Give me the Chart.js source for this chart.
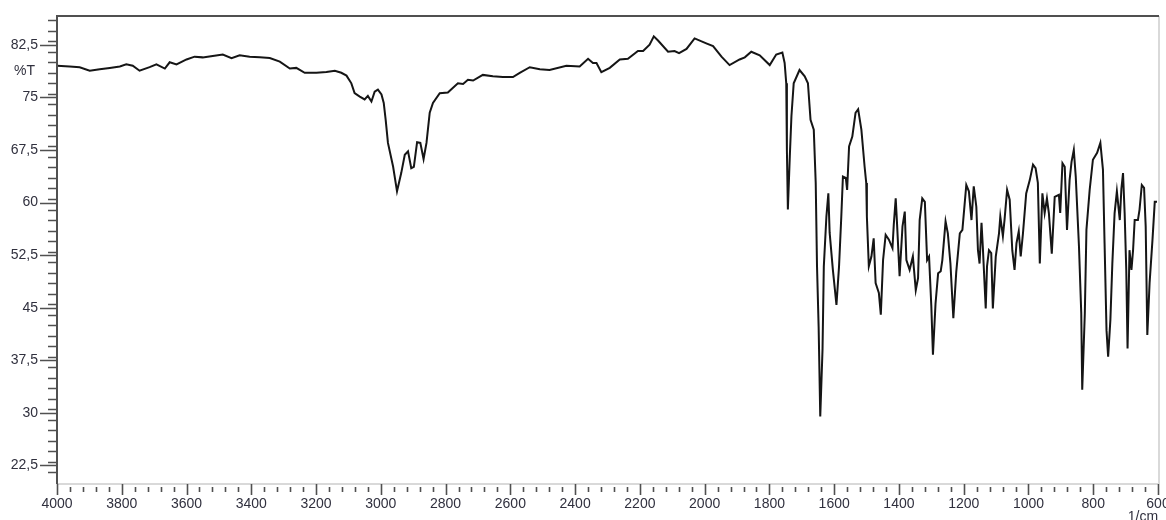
<!DOCTYPE html>
<html>
<head>
<meta charset="utf-8">
<script src="https://cdn.jsdelivr.net/npm/chart.js@4/dist/chart.umd.min.js"></script>
<style>
  body { margin: 0; background: #fff; }
</style>
</head>
<body>
<canvas id="irChart" width="1166" height="520"></canvas>
<script>
// spectrum (1/cm, %T)
const wavenumbers = [
  4000, 3961, 3930, 3899, 3868, 3837, 3806, 3786, 3766, 3745, 3714, 3693, 3667, 3652, 3631,
  3600, 3575, 3550, 3519, 3488, 3461, 3436, 3405, 3374, 3343, 3312, 3281, 3261, 3235, 3199,
  3168, 3142, 3122, 3106, 3091, 3081, 3065, 3050, 3040, 3029, 3019, 3009, 2998, 2991, 2985,
  2978, 2962, 2950, 2937, 2926, 2916, 2906, 2898, 2888, 2878, 2868, 2859, 2849, 2839, 2818,
  2793, 2762, 2746, 2731, 2715, 2685, 2654, 2623, 2592, 2571, 2540, 2509, 2479, 2427, 2386,
  2360, 2345, 2334, 2319, 2293, 2262, 2237, 2206, 2190, 2170, 2157, 2144, 2113, 2093, 2079,
  2056, 2031, 1995, 1974, 1948, 1923, 1892, 1876, 1856, 1830, 1799, 1779, 1760, 1753, 1748,
  1746, 1743, 1737, 1732, 1725, 1707, 1691, 1681, 1673, 1663, 1657, 1653, 1648, 1643, 1636,
  1632, 1624, 1618, 1614, 1604, 1593, 1585, 1578, 1573, 1564, 1560, 1554, 1544, 1534, 1526,
  1516, 1506, 1501, 1499, 1493, 1485, 1478, 1472, 1462, 1456, 1449, 1441, 1431, 1420, 1416,
  1410, 1406, 1398, 1389, 1382, 1377, 1367, 1357, 1348, 1341, 1336, 1328, 1320, 1313, 1307,
  1300, 1295, 1287, 1279, 1271, 1266, 1256, 1249, 1241, 1232, 1223, 1212, 1204, 1192, 1184,
  1176, 1169, 1161, 1156, 1151, 1145, 1141, 1132, 1128, 1122, 1115, 1110, 1101, 1091, 1087,
  1079, 1074, 1066, 1058, 1050, 1043, 1037, 1030, 1024, 1017, 1007, 996, 986, 978, 971,
  965, 957, 950, 943, 937, 928, 919, 906, 902, 895, 888, 881, 873, 867, 860,
  854, 844, 837, 834, 826, 821, 811, 801, 788, 778, 770, 765, 759, 754, 747,
  741, 734, 727, 718, 713, 708, 703, 698, 694, 688, 682, 677, 672, 662, 657,
  650, 643, 638, 633, 626, 617, 610, 603
];
const transmittance = [
  79.5, 79.4, 79.3, 78.8, 79.0, 79.2, 79.4, 79.7, 79.5, 78.8, 79.3, 79.7, 79.1, 80.0, 79.7,
  80.4, 80.8, 80.7, 80.9, 81.1, 80.6, 81.0, 80.8, 80.7, 80.6, 80.1, 79.1, 79.2, 78.5, 78.5,
  78.6, 78.8, 78.5, 78.1, 77.0, 75.6, 75.1, 74.7, 75.2, 74.4, 75.8, 76.1, 75.4, 74.2, 71.8,
  68.5, 65.1, 61.6, 64.2, 66.8, 67.3, 64.9, 65.1, 68.6, 68.5, 66.2, 68.5, 72.8, 74.2, 75.6,
  75.7, 77.0, 76.9, 77.5, 77.4, 78.2, 78.0, 77.9, 77.9, 78.5, 79.3, 79.0, 78.9, 79.5, 79.4,
  80.5, 79.9, 79.9, 78.6, 79.2, 80.4, 80.5, 81.6, 81.6, 82.5, 83.7, 83.1, 81.5, 81.6, 81.3,
  81.9, 83.4, 82.7, 82.3, 80.8, 79.6, 80.4, 80.7, 81.5, 81.0, 79.6, 81.1, 81.4, 79.9, 77.0,
  67.5, 59.0, 66.6, 72.3, 77.0, 78.9, 78.0, 77.0, 71.8, 70.4, 62.8, 50.9, 42.3, 29.5, 39.0,
  50.9, 58.0, 61.3, 55.7, 50.4, 45.4, 50.9, 58.0, 63.7, 63.5, 61.8, 68.0, 69.4, 72.8, 73.3,
  70.4, 65.1, 62.8, 58.0, 50.9, 52.3, 54.9, 48.5, 47.1, 44.0, 51.8, 55.4, 54.7, 53.5, 56.8,
  60.6, 57.1, 49.5, 56.6, 58.7, 51.8, 50.4, 52.3, 47.5, 49.2, 57.5, 60.6, 60.1, 51.8, 52.3,
  45.2, 38.3, 45.6, 49.9, 50.2, 51.8, 57.3, 55.6, 51.3, 43.5, 50.1, 55.6, 56.1, 62.5, 61.6,
  57.5, 62.3, 59.4, 53.2, 51.3, 57.1, 53.7, 44.9, 50.9, 53.2, 52.8, 44.9, 52.3, 55.6, 58.0,
  55.2, 57.5, 61.8, 60.4, 53.2, 50.4, 54.2, 55.9, 52.3, 55.6, 61.3, 63.2, 65.4, 64.9, 62.8,
  51.3, 61.3, 58.5, 60.6, 58.5, 52.7, 60.8, 61.1, 58.5, 65.6, 65.1, 56.1, 63.2, 65.8, 67.5,
  63.7, 53.7, 44.2, 33.3, 44.2, 56.1, 61.8, 66.1, 67.1, 68.5, 64.7, 54.2, 41.8, 38.0, 43.3,
  51.3, 58.5, 61.6, 57.5, 62.0, 64.2, 58.5, 50.4, 39.2, 53.2, 50.4, 53.2, 57.5, 57.5, 59.0,
  62.5, 62.1, 56.6, 41.1, 48.5, 54.7, 60.1, 60.1
];

// axes
const xTickValues = [4000, 3800, 3600, 3400, 3200, 3000, 2800, 2600, 2400, 2200, 2000, 1800, 1600, 1400, 1200, 1000, 800, 600];
const xTickLabels = ['4000', '3800', '3600', '3400', '3200', '3000', '2800', '2600', '2400', '2200', '2000', '1800', '1600', '1400', '1200', '1000', '800', '600'];
const yTickValues = [22.5, 30, 37.5, 45, 52.5, 60, 67.5, 75, 82.5];
const yTickLabels = ['22,5', '30', '37,5', '45', '52,5', '60', '67,5', '75', '82,5'];
const xMinorStep = 40;
const yMinorStep = 1.5;
const yTitle = '%T';
const xTitle = '1/cm';

// ve truc, vach chia va nhan bang tay (dung scale cua Chart.js)
const irAxes = {
  id: 'irAxes',
  afterDraw(chart) {
    const { ctx, chartArea: a, scales: { x, y } } = chart;
    ctx.save();

    // khung nhat ben phai va duoi
    ctx.strokeStyle = '#d9d9d9';
    ctx.lineWidth = 2;
    ctx.beginPath();
    ctx.moveTo(a.left, a.bottom + 1);
    ctx.lineTo(a.right + 1, a.bottom + 1);
    ctx.moveTo(a.right + 1, a.top);
    ctx.lineTo(a.right + 1, a.bottom + 1);
    ctx.stroke();

    // khung dam ben trai va tren
    ctx.strokeStyle = '#505050';
    ctx.beginPath();
    ctx.moveTo(a.left, a.bottom + 1);
    ctx.lineTo(a.left, a.top);
    ctx.lineTo(a.right + 1, a.top);
    ctx.stroke();

    // vach chia truc y
    ctx.lineWidth = 1.6;
    ctx.beginPath();
    for (let v = y.min + yMinorStep; v < y.max; v += yMinorStep) {
      const py = Math.round(y.getPixelForValue(v)) + 0.5;
      ctx.moveTo(a.left - 9, py);
      ctx.lineTo(a.left, py);
    }
    yTickValues.forEach(v => {
      const py = Math.round(y.getPixelForValue(v)) + 0.5;
      ctx.moveTo(a.left - 17, py);
      ctx.lineTo(a.left, py);
    });
    ctx.stroke();

    // vach chia truc x
    ctx.beginPath();
    for (let v = x.min; v <= x.max; v += xMinorStep) {
      const px = Math.round(x.getPixelForValue(v)) + 0.5;
      ctx.moveTo(px, a.bottom + 4);
      ctx.lineTo(px, a.bottom + 9);
    }
    xTickValues.forEach(v => {
      const px = Math.round(x.getPixelForValue(v)) + 0.5;
      ctx.moveTo(px, a.bottom + 1);
      ctx.lineTo(px, a.bottom + 12);
    });
    ctx.stroke();

    // nhan
    ctx.fillStyle = '#30303e';
    ctx.font = '14px "Liberation Sans", Arial, sans-serif';
    ctx.textAlign = 'right';
    ctx.textBaseline = 'middle';
    yTickValues.forEach((v, i) => {
      ctx.fillText(yTickLabels[i], a.left - 19, y.getPixelForValue(v));
    });
    ctx.fillText(yTitle, a.left - 22, y.getPixelForValue(78.7));

    ctx.textAlign = 'center';
    xTickValues.forEach((v, i) => {
      ctx.fillText(xTickLabels[i], x.getPixelForValue(v), a.bottom + 21);
    });
    ctx.fillText(xTitle, x.getPixelForValue(600) - 15, a.bottom + 34);

    ctx.restore();
  }
};

new Chart(document.getElementById('irChart'), {
  type: 'line',
  data: {
    datasets: [{
      data: wavenumbers.map((w, i) => ({ x: w, y: transmittance[i] })),
      borderColor: '#151515',
      borderWidth: 2,
      pointRadius: 0,
      tension: 0,
      fill: false
    }]
  },
  options: {
    responsive: false,
    animation: false,
    layout: { padding: { left: 57, right: 8, top: 16, bottom: 37 } },
    plugins: { legend: { display: false }, tooltip: { enabled: false } },
    scales: {
      x: { type: 'linear', reverse: true, min: 600, max: 4000, display: false },
      y: { min: 20, max: 86.6, display: false }
    }
  },
  plugins: [irAxes]
});
</script>
</body>
</html>
